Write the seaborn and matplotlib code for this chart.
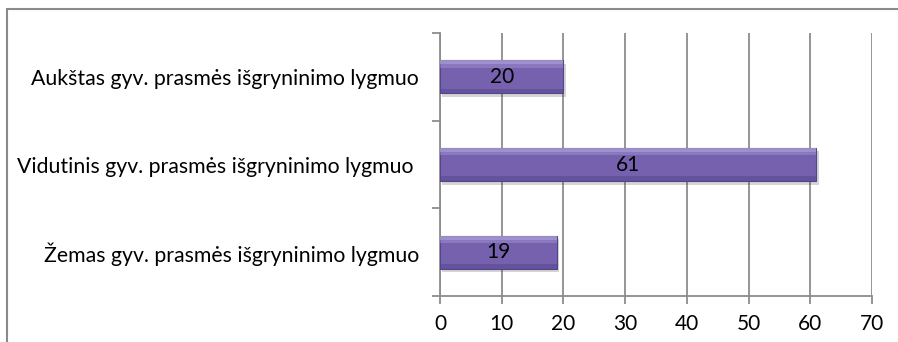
import matplotlib
matplotlib.use("Agg")
import matplotlib.pyplot as plt
import matplotlib.patheffects as pe
from matplotlib.patches import Rectangle
import seaborn as sns
import pandas as pd

categories = [
    "Aukštas gyv. prasmės išgryninimo lygmuo",
    "Vidutinis gyv. prasmės išgryninimo lygmuo ",
    "Žemas gyv. prasmės išgryninimo lygmuo",
]
values = [20, 61, 19]
x_ticks = [0, 10, 20, 30, 40, 50, 60, 70]

df = pd.DataFrame({"category": categories, "value": values})

sns.set_theme(style="white")
plt.rcParams["font.family"] = ["Lato", "DejaVu Sans"]

fig = plt.figure(figsize=(8.98, 3.42), dpi=100)
ax = fig.add_axes([440 / 898, 46 / 342, 432 / 898, 263 / 342])

grid_col = "#8c8c8c"
for t in x_ticks:
    ax.axvline(t, color=grid_col, lw=1.3, zorder=0)

sns.barplot(data=df, x="value", y="category", orient="h", color="#7561ae",
            width=0.38, saturation=1, edgecolor="#54448a", linewidth=0.8,
            ax=ax, zorder=3)

for bar, v in zip(ax.patches, values):
    bar.set_path_effects([pe.SimplePatchShadow(offset=(1.5, -2.5), alpha=0.22,
                                               shadow_rgbFace="#444444"),
                          pe.Normal()])
    x0, y0 = bar.get_x(), bar.get_y()
    w, h = bar.get_width(), bar.get_height()
    # bevel shading: light top strips, darker bottom strip
    ax.add_patch(Rectangle((x0, y0), w, h * 0.12, facecolor="#a99cd4",
                           edgecolor="none", alpha=0.8, zorder=4))
    ax.add_patch(Rectangle((x0, y0 + h * 0.12), w, h * 0.1, facecolor="#a99cd4",
                           edgecolor="none", alpha=0.4, zorder=4))
    ax.add_patch(Rectangle((x0, y0 + h * 0.86), w, h * 0.14, facecolor="#55458c",
                           edgecolor="none", alpha=0.5, zorder=4))
    ax.text(x0 + w / 2, y0 + h / 2, str(v), ha="center", va="center",
            fontsize=15, color="black", zorder=5)

ax.set_xlim(0, 70)
ax.set_ylim(2.5, -0.5)
ax.set_xticks(x_ticks)
ax.set_xticklabels([str(t) for t in x_ticks])
ax.set_xlabel("")
ax.set_ylabel("")

for side in ["top", "right"]:
    ax.spines[side].set_visible(False)
for side in ["left", "bottom"]:
    ax.spines[side].set_color(grid_col)
    ax.spines[side].set_linewidth(1.3)

ax.tick_params(axis="x", which="major", length=6, width=1.3, color=grid_col,
               direction="out", bottom=True, labelsize=15, pad=7, labelcolor="black")
ax.tick_params(axis="y", which="major", length=0, labelsize=15.3, pad=15,
               labelcolor="black")
ax.set_yticks([-0.5, 0.5, 1.5, 2.5], minor=True)
ax.tick_params(axis="y", which="minor", length=6, width=1.3, color=grid_col,
               direction="out", left=True)

# outer chart frame
fig.add_artist(plt.Line2D([7 / 898, 7 / 898], [0, 1 - 9 / 342], transform=fig.transFigure,
                          color="#8a8a8a", lw=1.5))
fig.add_artist(plt.Line2D([7 / 898, 1], [1 - 9 / 342, 1 - 9 / 342], transform=fig.transFigure,
                          color="#8a8a8a", lw=1.5))

fig.savefig("out.png", dpi=100)
